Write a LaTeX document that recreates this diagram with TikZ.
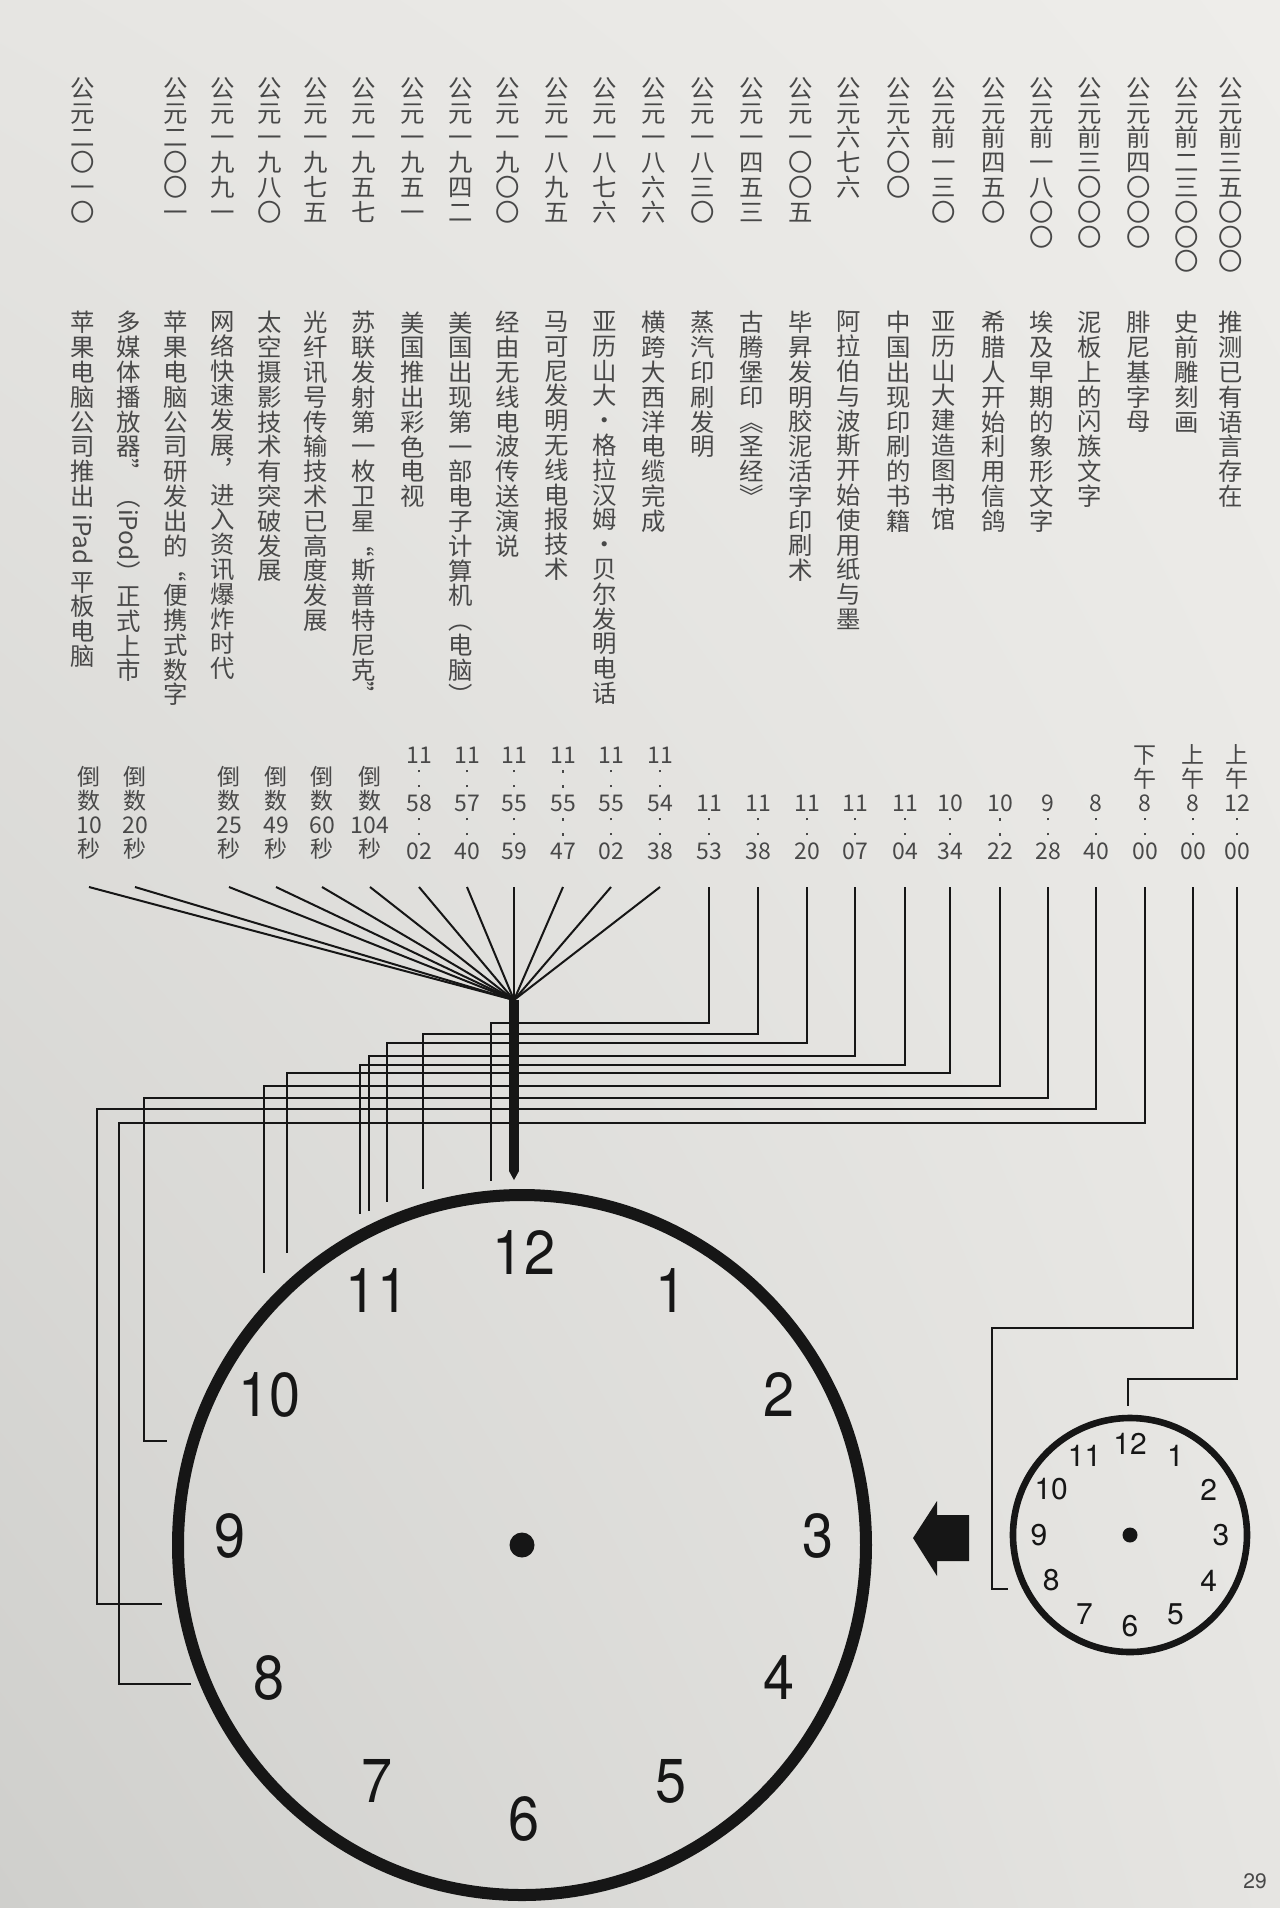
\documentclass[tikz,border=0pt]{standalone}
\usepackage{fontspec}
\usepackage{graphicx}
\setmainfont{TeX Gyre Heros}
\newfontfamily\cjk{Noto Sans CJK SC}
\newfontfamily\dialfont{TeX Gyre Heros}[FakeStretch=0.9]
\usetikzlibrary{arrows.meta, calc, shapes.geometric, shadings}

\definecolor{paperhi}{RGB}{238,237,234}
\definecolor{papermid}{RGB}{230,229,226}
\definecolor{paperlo}{RGB}{207,207,204}
\definecolor{ink}{RGB}{22,22,22}
\definecolor{textgray}{RGB}{72,72,72}

% one glyph per line (vertical setting)
\makeatletter
\def\vtxt@end{\vtxt@end@}
\newcommand\vtxt[1]{\vbox{\lineskiplimit=0pt\lineskip=1pt
    \expandafter\vtxt@#1\vtxt@end}}
\def\vtxt@#1{\ifx\vtxt@end#1\else\hbox to 1em{\hss#1\hss}\expandafter\vtxt@\fi}
\makeatother
\newcommand\vq[1]{\rotatebox[origin=c]{-90}{#1}}
% colon between the stacked hour, minute and second
\newcommand\tc{\vbox{\hrule height 1.3pt width 1.3pt\vskip 6.2pt
    \hrule height 1.3pt width 1.3pt}}

\begin{document}
\begin{tikzpicture}[x=0.5pt, y=-0.5pt,
    yearcol/.style={anchor=north, inner sep=0pt, text=textgray,
      font=\cjk\fontsize{12.2}{12.4}\selectfont},
    timecol/.style={anchor=south, inner sep=0pt, text=textgray,
      font=\cjk\fontsize{11.5}{12}\selectfont},
    wire/.style={draw=ink, line width=1pt},
    shaft/.style={draw=ink, line width=5pt,
      -{Triangle[length=4.5pt, width=5pt, line width=0pt]}, shorten >=4.5pt},
    dial/.style={ellipse, draw=ink, inner sep=0pt},
    pin/.style={circle, fill=ink, inner sep=0pt},
    bignum/.style={inner sep=0pt, text=ink, font=\dialfont\fontsize{31}{31}\selectfont},
    smallnum/.style={inner sep=0pt, text=ink, font=\fontsize{15}{15}\selectfont}
  ]
  \useasboundingbox (0,0) rectangle (1280,1908);
  \shade[upper left=papermid, upper right=paperhi, lower left=paperlo,
    lower right=papermid] (0,0) rectangle (1280,1908);

  % years
  \foreach \k/\x/\yr in {0/83/公元二〇一〇, 2/176/公元二〇〇一, 3/223/公元一九九一,
      4/270/公元一九八〇, 5/316/公元一九七五, 6/364/公元一九五七, 7/413/公元一九五一,
      8/461/公元一九四二, 9/508/公元一九〇〇, 10/557/公元一八九五, 11/605/公元一八七六,
      12/654/公元一八六六, 13/703/公元一八三〇, 14/752/公元一四五三, 15/801/公元一〇〇五,
      16/849/公元六七六, 17/899/公元六〇〇, 18/944/公元前一三〇, 19/994/公元前四五〇,
      20/1042/公元前一八〇〇, 21/1090/公元前三〇〇〇, 22/1139/公元前四〇〇〇,
      23/1187/公元前二三〇〇〇, 24/1231/公元前三五〇〇〇}
    \node[yearcol] (yr\k) at (\x,77) {\vtxt{\yr}};

  % events
  \foreach \k/\x/\ev in {0/83/{苹果电脑公司推出{\vq{\ iPad\ }}平板电脑},
      1/129/{多媒体播放器{\vq{”}}{\vq{（iPod）}}正式上市},
      2/176/{苹果电脑公司研发出的{\vq{“}}便携式数字},
      3/223/{网络快速发展︐进入资讯爆炸时代},
      4/270/{太空摄影技术有突破发展},
      5/316/{光纤讯号传输技术已高度发展},
      6/364/{苏联发射第一枚卫星{\vq{“}}斯普特尼克{\vq{”}}},
      7/413/{美国推出彩色电视},
      8/461/{美国出现第一部电子计算机︵电脑︶},
      9/508/{经由无线电波传送演说},
      10/557/{马可尼发明无线电报技术},
      11/605/{亚历山大·格拉汉姆·贝尔发明电话},
      12/654/{横跨大西洋电缆完成},
      13/703/{蒸汽印刷发明},
      14/752/{古腾堡印︽圣经︾},
      15/801/{毕昇发明胶泥活字印刷术},
      16/849/{阿拉伯与波斯开始使用纸与墨},
      17/899/{中国出现印刷的书籍},
      18/944/{亚历山大建造图书馆},
      19/994/{希腊人开始利用信鸽},
      20/1042/{埃及早期的象形文字},
      21/1090/{泥板上的闪族文字},
      22/1139/{腓尼基字母},
      23/1187/{史前雕刻画},
      24/1231/{推测已有语言存在}}
    \node[yearcol] (ev\k) at (\x,311) {\vtxt{\ev}};

  % clock times
  \foreach \k/\x/\tm in {0/89/{倒数{10}秒}, 1/135/{倒数{20}秒}, 3/229/{倒数{25}秒},
      4/276/{倒数{49}秒}, 5/322/{倒数{60}秒}, 6/370/{倒数{104}秒},
      7/419/{{11}\tc{58}\tc{02}}, 8/467/{{11}\tc{57}\tc{40}},
      9/514/{{11}\tc{55}\tc{59}}, 10/563/{{11}\tc{55}\tc{47}},
      11/611/{{11}\tc{55}\tc{02}}, 12/660/{{11}\tc{54}\tc{38}},
      13/709/{{11}\tc{53}}, 14/758/{{11}\tc{38}}, 15/807/{{11}\tc{20}},
      16/855/{{11}\tc{07}}, 17/905/{{11}\tc{04}}, 18/950/{{10}\tc{34}},
      19/1000/{{10}\tc{22}}, 20/1048/{9\tc{28}}, 21/1096/{8\tc{40}},
      22/1145/{下午8\tc{00}}, 23/1193/{上午8\tc{00}}, 24/1237/{上午{12}\tc{00}}}
    \node[timecol] (t\k) at (\x,860) {\vtxt{\tm}};

  % dials
  \node[dial, line width=6pt, minimum width=344pt, minimum height=350pt]
    (bigclock) at (522,1545) {};
  \node[pin, minimum size=12.5pt] (bigpin) at (bigclock.center) {};
  \foreach \h in {1,...,12}
    \node[bignum] (big\h) at ($(bigclock.center)+(2,-9)+({30*\h-90}:294 and 283)$) {\h};
  \node[dial, line width=3.3pt, minimum size=117pt] (smallclock) at (1130,1535) {};
  \node[pin, minimum size=7.5pt] (smallpin) at (smallclock.center) {};
  \foreach \h in {1,...,12}
    \node[smallnum] (small\h) at ($(smallclock.center)+({30*\h-90}:91)$) {\h};

  % links from the times to the dials
  \coordinate (wiretop) at (0,887);
  \coordinate (hub) at (514,1000);
  \foreach \k in {0,1,3,4,5,6,7,8,9,10,11,12}
    \draw[wire] (t\k.south |- wiretop) -- (hub);
  \draw[shaft] (hub) -- (hub |- bigclock.north);
  \foreach \k/\jx/\jy/\ex/\ey in {13/491/1023/491/1181, 14/423/1034/423/1189,
      15/387/1043/387/1202, 16/369/1056/369/1211, 17/360/1065/360/1214,
      18/287/1073/287/1253, 19/264/1086/264/1273, 20/144/1098/167/1441,
      21/97/1109/162/1604, 22/119/1123/191/1684, 23/992/1328/1008/1589,
      24/1128/1379/1128/1406}
  {
    \coordinate (j\k) at (\jx,\jy);
    \coordinate (e\k) at (\ex,\ey);
    \draw[wire] (t\k.south |- wiretop) |- (j\k) |- (e\k);
  }

  % block arrow from the small dial to the big one
  \fill[ink] (913,1538) -- (937,1501) -- (937,1515) -- (969,1515)
    -- (969,1561) -- (937,1561) -- (937,1576) -- cycle;

  \node[text=textgray, font=\fontsize{10.5}{10.5}\selectfont] (folio) at (1255,1881) {29};
\end{tikzpicture}
\end{document}
